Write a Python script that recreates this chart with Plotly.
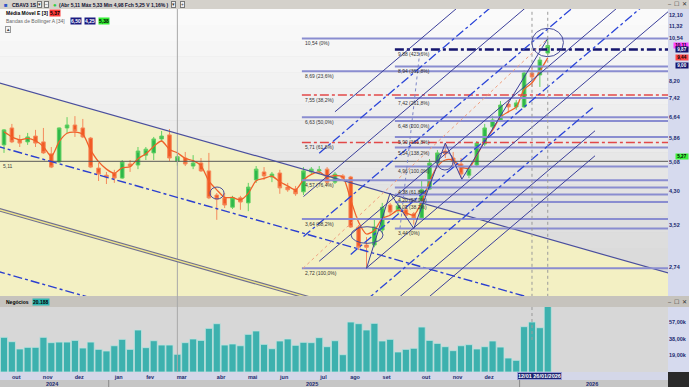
import math
import pandas as pd
import plotly.graph_objects as go

# ---------------- data (weekly candles CBAV3) ----------------
first_week = "2024-09-30"
n_weeks = 70

opens = [5.63, 6.22, 5.79, 5.73, 5.93, 5.73, 5.34, 5.09, 6.22, 6.33,
         6.22, 5.86, 4.91, 4.71, 4.77, 4.63, 5.03, 5.00, 5.30, 5.37,
         5.83, 5.97, 5.11, 5.21, 4.97, 5.06, 4.83, 4.19, 4.12, 3.90,
         4.12, 4.00, 4.58, 4.80, 4.66, 4.77, 4.39, 4.34, 4.27, 4.80,
         4.83, 4.88, 4.52, 4.69, 4.66, 3.47, 3.12, 3.12, 3.41, 3.95,
         3.84, 3.84, 3.75, 3.66, 4.34, 5.06, 5.43, 5.21, 5.03, 4.71,
         5.00, 5.66, 6.26, 6.52, 7.16, 7.04, 7.04, 8.60, 8.50, 9.67]
highs = [6.18, 6.37, 5.97, 6.04, 6.15, 6.22, 5.56, 6.24, 6.63, 6.67,
         6.56, 5.90, 5.06, 4.80, 4.86, 5.15, 5.15, 5.56, 5.56, 5.90,
         6.11, 6.18, 5.33, 5.40, 5.30, 5.21, 5.37, 4.24, 4.24, 4.17,
         4.17, 4.50, 4.97, 4.94, 4.80, 4.86, 4.50, 4.42, 4.94, 4.94,
         4.97, 4.94, 4.80, 4.74, 4.69, 3.51, 3.27, 3.62, 4.00, 4.00,
         4.00, 3.95, 3.79, 4.58, 5.18, 5.46, 5.69, 5.40, 5.21, 4.97,
         5.76, 6.37, 6.68, 7.29, 7.33, 7.33, 8.75, 8.96, 9.45, 10.54]
lows = [5.37, 5.69, 5.56, 5.63, 5.56, 5.34, 4.91, 5.07, 6.04, 5.90,
        5.86, 4.91, 4.55, 4.47, 4.50, 4.61, 4.80, 4.88, 5.15, 5.15,
        5.73, 5.12, 4.98, 4.97, 4.88, 4.80, 4.09, 3.62, 3.88, 3.86,
        3.84, 3.81, 4.50, 4.58, 4.52, 4.22, 4.27, 4.17, 4.19, 4.74,
        4.74, 4.44, 4.47, 4.55, 3.45, 3.03, 2.72, 3.08, 3.35, 3.72,
        3.77, 3.66, 3.52, 3.64, 4.32, 5.00, 5.21, 4.97, 4.63, 4.63,
        4.97, 5.59, 6.15, 6.44, 6.83, 6.92, 7.00, 7.92, 7.92, 9.56]
closes = [6.15, 5.73, 5.69, 5.90, 5.69, 5.37, 4.94, 6.22, 6.33, 6.11,
          5.90, 4.94, 4.74, 4.66, 4.63, 5.09, 4.97, 5.43, 5.49, 5.83,
          5.93, 5.21, 5.25, 5.03, 5.06, 4.83, 4.12, 4.09, 3.95, 4.12,
          4.02, 4.39, 4.88, 4.69, 4.74, 4.37, 4.32, 4.22, 4.83, 4.88,
          4.86, 4.52, 4.74, 4.63, 3.47, 3.08, 3.08, 3.47, 3.90, 3.79,
          3.93, 3.72, 3.66, 4.32, 5.06, 5.37, 5.34, 5.12, 4.74, 4.88,
          5.69, 6.22, 6.52, 7.12, 7.04, 7.21, 8.60, 8.40, 9.28, 10.11]
ema3 = [6.08, 5.90, 5.80, 5.85, 5.77, 5.57, 5.26, 5.74, 6.03, 6.07,
        5.99, 5.46, 5.10, 4.88, 4.76, 4.92, 4.95, 5.19, 5.34, 5.58,
        5.76, 5.48, 5.37, 5.20, 5.13, 4.98, 4.55, 4.32, 4.13, 4.13,
        4.07, 4.23, 4.56, 4.62, 4.68, 4.53, 4.42, 4.32, 4.58, 4.73,
        4.80, 4.66, 4.70, 4.66, 4.07, 3.57, 3.33, 3.40, 3.65, 3.72,
        3.83, 3.77, 3.72, 4.02, 4.54, 4.96, 5.15, 5.14, 4.94, 4.91,
        5.30, 5.76, 6.14, 6.63, 6.84, 7.03, 7.81, 8.11, 8.69, 9.40]
negocios_k = [39.5, 34.5, 26.2, 28.1, 28.1, 39.5, 33.4, 34.1, 34.1, 36.0,
              27.3, 34.1, 25.8, 23.9, 29.9, 37.2, 25.8, 47.8, 27.7, 35.6,
              30.7, 30.7, 20.188, 33.4, 37.6, 36.0, 49.7, 55.0, 30.7, 31.9,
              29.9, 42.9, 46.7, 31.5, 26.5, 35.3, 37.6, 30.4, 33.8, 33.4,
              39.1, 28.8, 35.6, 19.7, 56.9, 55.0, 47.8, 55.4, 35.3, 37.2,
              22.8, 25.8, 27.0, 51.2, 36.0, 32.6, 28.8, 24.3, 29.9, 31.1,
              26.2, 28.8, 35.3, 28.4, 15.9, 13.3, 51.6, 56.9, 50.4, 75.0]

month_bar_index = [1, 5, 9, 14, 18, 22, 27, 31, 35, 40, 44, 48, 53, 57, 61]
month_labels = ["out", "nov", "dez", "jan", "fev", "mar", "abr", "mai", "jun",
                "jul", "ago", "set", "out", "nov", "dez"]
price_ticks = [2.74, 3.52, 4.30, 5.08, 5.86, 6.64, 7.42, 8.20, 10.54, 11.32, 12.10]
vol_ticks = [19, 38, 57]

fib_ret_levels = [10.54, 8.69, 7.55, 6.63, 5.71, 4.57, 3.64, 2.72]
fib_ret_labels = ["10,54 (0%)", "8,69 (23,6%)", "7,55 (38,2%)", "6,63 (50,0%)",
                  "5,71 (61,8%)", "4,57 (76,4%)", "3,64 (88,2%)", "2,72 (100,0%)"]
fib_ext_levels = [9.88, 8.94, 7.42, 6.48, 5.90, 5.54, 4.96, 4.38, 4.20, 4.02, 3.44]
fib_ext_labels = ["9,88 (423,6%)", "8,94 (361,8%)", "7,42 (261,8%)", "6,48 (200,0%)",
                  "5,90 (161,8%)", "5,54 (138,2%)", "4,96 (100,0%)", "4,38 (61,8%)",
                  "4,20 (50,0%)", "4,02 (38,2%)", "3,44 (0%)"]

# drawn trendlines: (start bar, start price, end bar, end price, style)
down_channel = [(-1, 8.159, 85, 2.621, "solid"),
                (-1, 5.597, 85, 1.798, "dashdot"),
                (-1, 3.861, 85, 1.240, "double"),
                (-1, 2.679, 85, 0.861, "dashdot")]
up_channel = [(46, 2.726, 85, 12.70, "solid"),
              (44, 2.953, 85, 14.89, "dashdot"),
              (40, 2.837, 85, 16.76, "solid"),
              (38, 3.279, 85, 20.96, "dashdot"),
              (38, 4.152, 85, 26.53, "solid"),
              (40, 5.361, 85, 31.66, "dashdot"),
              (42, 6.842, 85, 37.34, "solid"),
              (46, 2.257, 75, 7.089, "dashdot"),
              (46, 1.948, 75, 6.118, "solid"),
              (46, 1.681, 75, 5.280, "solid")]
zigzag = [(46, 2.72), (49, 4.24), (52, 3.44), (56, 5.69), (58.1, 4.60), (69, 10.54)]
ellipses = [(26.14, 4.392, 27.92, 4.092), (44.04, 3.476, 48.1, 3.152),
            (54.9, 5.399, 57.0, 4.855), (66.97, 11.19, 70.99, 9.466)]
cursor_bar, cursor_price = 22, 5.11

# ---------------- helpers ----------------
base = pd.Timestamp(first_week)


def wk(i):
    return (base + pd.Timedelta(days=7 * i)).strftime("%Y-%m-%d %H:%M")


def wkp(i):  # date form usable inside an SVG path
    return (base + pd.Timedelta(days=7 * i)).strftime("%Y-%m-%d_%H:%M")


dates = [wk(i) for i in range(n_weeks)]
H = 387.0
W = 689.0
PX = 668 / W


def py(px):  # pixel row -> paper fraction
    return 1 - px / H


FONT = "Liberation Sans"
NAVY = "#1c2a6e"

fig = go.Figure()

fig.add_trace(go.Candlestick(
    x=dates, open=opens, high=highs, low=lows, close=closes,
    increasing=dict(line=dict(color="#62d062", width=1), fillcolor="#2db84a"),
    decreasing=dict(line=dict(color="#f58a5c", width=1), fillcolor="#f15a24"),
    whiskerwidth=0, xaxis="x", yaxis="y", hoverinfo="skip"))

fig.add_trace(go.Scatter(x=dates, y=ema3, mode="lines",
                         line=dict(color="#f0602a", width=1.3, shape="spline", smoothing=0.7),
                         xaxis="x", yaxis="y", hoverinfo="skip"))

fig.add_trace(go.Bar(x=dates, y=negocios_k, marker=dict(color="#3db1ae", line=dict(color="#bfe3df", width=0.8)),
                     xaxis="x2", yaxis="y2", hoverinfo="skip"))

shapes = []


def rect(x0, y0, x1, y1, color):
    shapes.append(dict(type="rect", xref="paper", yref="paper", x0=x0, x1=x1, y0=y0, y1=y1,
                       fillcolor=color, line=dict(width=0), layer="below"))


# backgrounds
nb = 18
for k in range(nb):
    top = 9 + (296 - 9) * k / nb
    bot = 9 + (296 - 9) * (k + 1) / nb
    c = int(252 - (252 - 214) * (k + 0.5) / nb)
    rect(0, py(bot), PX, py(top), "rgb(%d,%d,%d)" % (c, c, c))
rect(0, py(372), PX, py(307), "#d7d7d7")
rect(PX, py(296), 1, py(9), "#d6daee")
rect(PX, py(372), 1, py(307), "#d6daee")
rect(0, py(9), 1, 1, "#d4d1cb")
rect(0, py(307), 1, py(296), "#c6c3bd")
rect(0, py(380), 1, py(372), "#d4d7e8")
rect(0, 0, 1, py(380), "#c6c6c6")
rect(PX, 0, 1, py(372), "#2a2a2a")

# yellow area below the descending channel top line
t = down_channel[0]
shapes.append(dict(type="path", xref="x", yref="y", layer="below",
                   path="M %s,%s L %s,%s L %s,1 L %s,1 Z" % (wkp(t[0]), t[1], wkp(t[2]), t[3], wkp(t[2]), wkp(t[0])),
                   fillcolor="#f3f0c3", line=dict(width=0)))


def seg(i0, p0, i1, p1, color, width, dash="solid"):
    shapes.append(dict(type="line", xref="x", yref="y", x0=wk(i0), y0=p0, x1=wk(i1), y1=p1,
                       line=dict(color=color, width=width, dash=dash), layer="above"))


# cursor cross-hair
seg(-1, cursor_price, 85, cursor_price, "#5a5a5a", 1)
shapes.append(dict(type="line", xref="x", yref="paper", x0=wk(cursor_bar), x1=wk(cursor_bar),
                   y0=py(372), y1=py(9), line=dict(color="#a8a8a8", width=1), layer="above"))

# descending channel
for (a, pa, b, pb, st) in down_channel:
    if st == "solid":
        seg(a, pa, b, pb, "#4a4f9e", 1.2)
    elif st == "dashdot":
        seg(a, pa, b, pb, "#2b3fd0", 1.4, "dashdot")
    else:
        seg(a, pa, b, pb, "#6e6e92", 3.6)
        seg(a, pa, b, pb, "#efe68a", 1.4)

# fibonacci retracement
for lv in fib_ret_levels:
    if lv in (7.55, 5.71):
        seg(37.8, lv, 85, lv, "#e24848", 1.4, "dashdot")
    else:
        seg(37.8, lv, 85, lv, "#8a8dd0", 2)
# fibonacci extension
for lv in fib_ext_levels:
    if lv == 9.88:
        seg(49.6, lv, 85, lv, "#15156e", 2.5, "dashdot")
    else:
        seg(49.6, lv, 85, lv, "#8a8dd0", 2)

# ascending channel
for (a, pa, b, pb, st) in up_channel:
    if st == "solid":
        seg(a, pa, b, pb, "#3b3f9a", 1)
    else:
        seg(a, pa, b, pb, "#2b45d8", 1.3, "dashdot")

# zig-zag
for (a, pa), (b, pb) in zip(zigzag[:-1], zigzag[1:]):
    seg(a, pa, b, pb, "#3b3f9a", 1)

seg(37.94, 2.72, 69, 10.54, "#f0a080", 1, "dot")
seg(50.25, 3.44, 52.8, 9.88, "#7d86c8", 1, "dot")
for vb in (67, 69):
    seg(vb, 2.3, vb, 12.6, "#9a9a9a", 1, "dot")
shapes.append(dict(type="line", xref="x", yref="paper", x0=wk(67), x1=wk(67), y0=py(340), y1=py(307),
                   line=dict(color="#9a9a9a", width=1, dash="dot")))

for (a, pa, b, pb) in ellipses:
    shapes.append(dict(type="circle", xref="x", yref="y", x0=wk(a), y0=pa, x1=wk(b), y1=pb,
                       line=dict(color="#484d9a", width=1), layer="above"))

# year separators
for d in ("2025-01-01", "2026-01-01"):
    shapes.append(dict(type="line", xref="x", yref="paper", x0=d, x1=d, y0=0, y1=py(380),
                       line=dict(color="#8a8a8a", width=1)))

ann = []


def txt(x, y, s, size=5.5, color="#000", bold=False, xref="paper", yref="paper",
        xanchor="left", yanchor="middle", bg=None, border=None, pad=0.5):
    d = dict(x=x, y=y, xref=xref, yref=yref, text=s, showarrow=False, xanchor=xanchor,
             yanchor=yanchor, font=dict(family=FONT, size=size, color=color,
                                        weight="bold" if bold else "normal"))
    if bg:
        d["bgcolor"] = bg
        d["borderpad"] = pad
    if border:
        d["bordercolor"] = border
        d["borderwidth"] = 1
    ann.append(d)


# header
txt(2 / W, py(4.5), "■", 6, "#2f55c8")
txt(10 / W, py(4.5), "CBAV3 1S", 5, "#101030", True)
txt(37 / W, py(4.5), "▾", 4.5, "#333", bg="#f0f0f0", border="#777", pad=0)
txt(44 / W, py(4.5), "–", 4.5, "#333", bg="#f0f0f0", border="#777", pad=0)
txt(51 / W, py(4.5), "●", 6, "#2ecc40")
txt(57 / W, py(4.5), "(Abr 5,11 Máx 5,33 Min 4,98 Fch 5,25 V 1,16% )", 5, "#101030", True)
txt(171 / W, py(4.5), "▾", 4.5, "#333", bg="#f0f0f0", border="#777", pad=0)
txt(180 / W, py(4.5), "+", 4.5, "#333", bg="#f0f0f0", border="#777", pad=0)
txt(1, py(4), "–  ☐  ✕", 5.5, "#333", xanchor="right")

txt(4 / W, py(13), "Média Móvel E [3]", 5, "#000", True)
txt(49 / W, py(13), "5,37", 5, "#000", True, bg="#ff3b3b", pad=0)
txt(4 / W, py(21), "Bandas de Bollinger A [34]", 5, "#666")
txt(70 / W, py(21), "6,50", 5, "#fff", True, bg="#1b1b80", pad=0)
txt(84 / W, py(21), "4,25", 5, "#fff", True, bg="#1b1b80", pad=0)
txt(98 / W, py(21), "5,38", 5, "#000", True, bg="#33ee33", pad=0)
txt(5 / W, py(29), "▲", 4.5, "#444", bg="#f4f4f4", border="#999", pad=0)
txt(1 / W, math.log10(cursor_price), "5,11", 5, "#444", yref="y", yanchor="top")

# fib labels
for lv, lb in zip(fib_ret_levels, fib_ret_labels):
    txt(wk(37.9), math.log10(lv), lb, 5, "#333", xref="x", yref="y", yanchor="top")
for lv, lb in zip(fib_ext_levels, fib_ext_labels):
    txt(wk(49.8), math.log10(lv), lb, 5, "#333", xref="x", yref="y", yanchor="top")

# right axis value badges
for val, s, bg, fc in [(10.11, "10,11", "#ff40ff", "#000"), (9.87, "9,87", "#15156e", "#fff"),
                       (9.44, "9,44", "#ff4848", "#000"), (9.00, "9,00", "#15156e", "#fff"),
                       (5.27, "5,27", "#3cf03c", "#000")]:
    txt(1, math.log10(val), " " + s + " ", 4.6, fc, True, yref="y", xanchor="right", bg=bg, pad=0)

# volume header
txt(4 / W, py(302), "Negócios", 5, "#000", True)
txt(32 / W, py(302), "20.188", 5, "#000", True, bg="#2fb5b0", pad=0)
txt(1, py(302), "–  ☐  ✕", 5.5, "#333", xanchor="right")

# years & cursor date badge
for i, y in [(6.2, "2024"), (39.1, "2025"), (74.6, "2026")]:
    txt(wk(i), py(383.6), y, 5.5, NAVY, True, xref="x", xanchor="center")
txt(wk(68.0), py(376), "12/01 26/01/2026", 5.5, "#fff", True, xref="x", xanchor="center",
    bg="#1b2370", border="#9aa0d8", pad=0)

xr = [wk(-0.508), wk(84.26)]
fig.update_layout(
    width=689, height=387, margin=dict(l=0, r=0, t=0, b=0),
    paper_bgcolor="#d9d9d9", plot_bgcolor="rgba(0,0,0,0)", showlegend=False,
    hovermode=False, boxgap=0.35, bargap=0.1,
    xaxis=dict(type="date", range=xr, domain=[0, PX], anchor="y", showticklabels=False,
               showgrid=False, zeroline=False, ticks="", rangeslider=dict(visible=False)),
    yaxis=dict(type="log", range=[0.3638, 1.0982], domain=[py(296), py(9)], side="right",
               anchor="x", tickvals=price_ticks,
               ticktext=[("%.2f" % v).replace(".", ",") for v in price_ticks],
               showgrid=False, zeroline=False, ticks="",
               tickfont=dict(family=FONT, size=5.5, color=NAVY, weight="bold")),
    xaxis2=dict(type="date", range=xr, domain=[0, PX], anchor="y2",
                tickvals=[wk(i + 0.55) for i in month_bar_index], ticktext=month_labels,
                showgrid=False, zeroline=False, ticks="",
                tickfont=dict(family=FONT, size=5.5, color=NAVY, weight="bold")),
    yaxis2=dict(range=[0, 74], domain=[py(372), py(307)], side="right", anchor="x2",
                tickvals=vol_ticks, ticktext=["%d,00k" % v for v in vol_ticks],
                showgrid=False, zeroline=False, ticks="",
                tickfont=dict(family=FONT, size=5.5, color=NAVY, weight="bold")),
    shapes=shapes, annotations=ann,
)

fig.write_html("out.html")
